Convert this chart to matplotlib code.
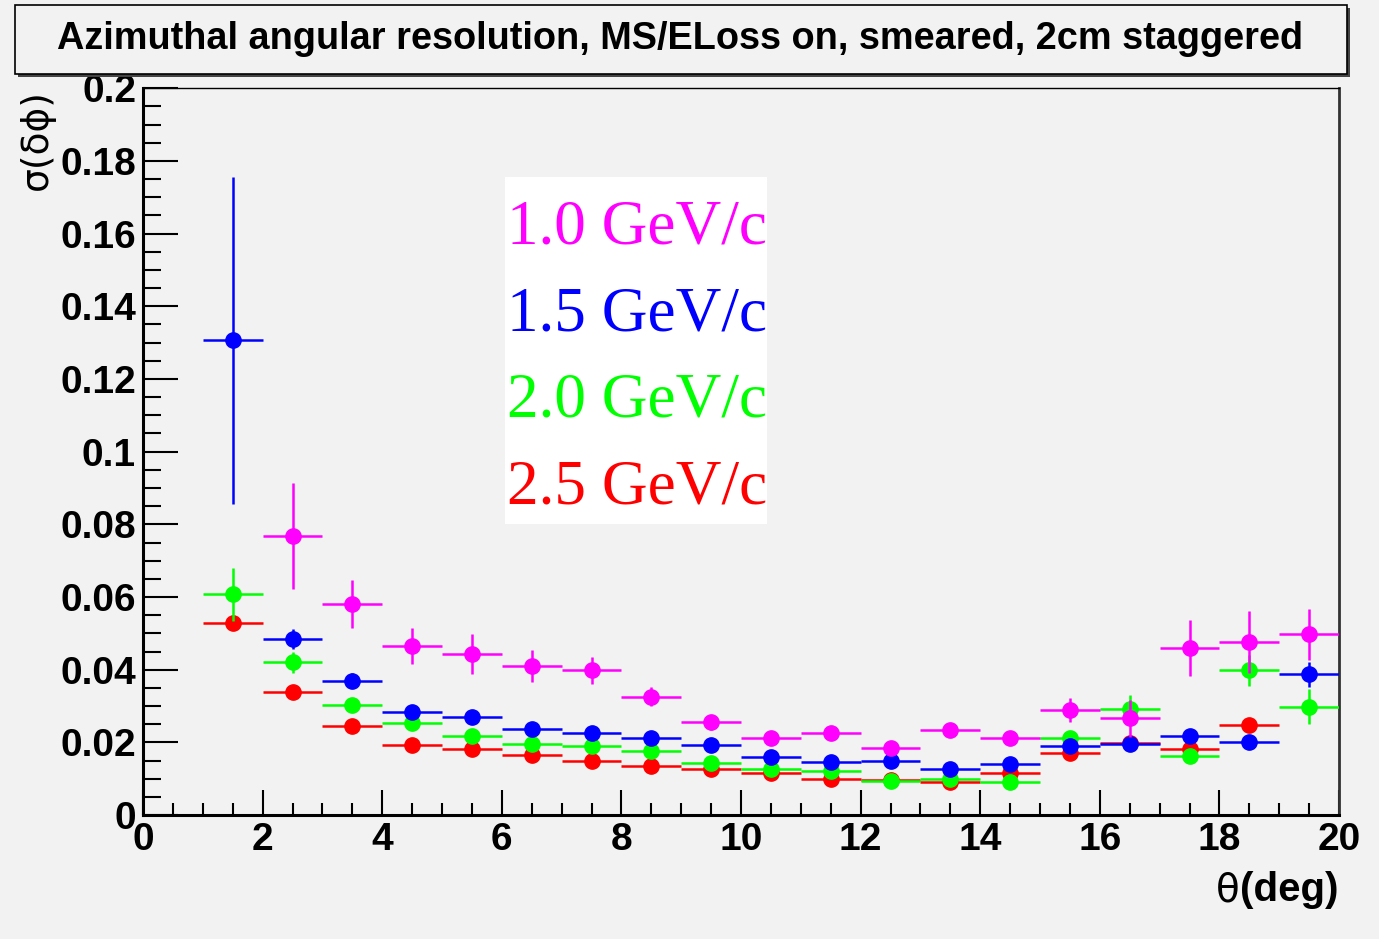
import numpy as np
import matplotlib.pyplot as plt
from matplotlib.patches import Rectangle
from matplotlib.ticker import MultipleLocator, FixedLocator, FixedFormatter

# bin centres (deg) and half bin width
theta = [1.5, 2.5, 3.5, 4.5, 5.5, 6.5, 7.5, 8.5, 9.5, 10.5,
         11.5, 12.5, 13.5, 14.5, 15.5, 16.5, 17.5, 18.5, 19.5]
theta_err = 0.5

# sigma(delta phi) for each momentum
sig_10 = [np.nan, 0.0768, 0.0580, 0.0465, 0.0443, 0.0410, 0.0399, 0.0326, 0.0255, 0.0212,
          0.0227, 0.0184, 0.0234, 0.0212, 0.0289, 0.0266, 0.0459, 0.0477, 0.0497]
err_10 = [np.nan, 0.0145, 0.0066, 0.0050, 0.0055, 0.0045, 0.0037, 0.0027, 0.0020, 0.0018,
          0.0015, 0.0015, 0.0016, 0.0015, 0.0033, 0.0050, 0.0077, 0.0085, 0.0069]

sig_15 = [0.1307, 0.0485, 0.0370, 0.0283, 0.0271, 0.0238, 0.0226, 0.0211, 0.0194, 0.0161,
          0.0145, 0.0149, 0.0128, 0.0140, 0.0190, 0.0195, 0.0217, 0.0200, 0.0387]
err_15 = [0.0450, 0.0028, 0.0020, 0.0016, 0.0014, 0.0013, 0.0012, 0.0011, 0.0010, 0.0010,
          0.0010, 0.0010, 0.0010, 0.0010, 0.0012, 0.0012, 0.0014, 0.0012, 0.0035]

sig_20 = [0.0607, 0.0420, 0.0303, 0.0254, 0.0217, 0.0195, 0.0190, 0.0177, 0.0144, 0.0127,
          0.0122, 0.0095, 0.0099, 0.0091, 0.0211, 0.0291, 0.0162, 0.0398, 0.0298]
err_20 = [0.0072, 0.0030, 0.0015, 0.0012, 0.0011, 0.0010, 0.0010, 0.0010, 0.0009, 0.0008,
          0.0008, 0.0008, 0.0008, 0.0008, 0.0012, 0.0040, 0.0012, 0.0042, 0.0048]

sig_25 = [0.0529, 0.0338, 0.0244, 0.0193, 0.0182, 0.0166, 0.0150, 0.0134, 0.0127, 0.0116,
          0.0099, 0.0097, 0.0092, 0.0115, 0.0171, 0.0199, 0.0183, 0.0249, np.nan]
err_25 = [0.0012, 0.0012, 0.0010, 0.0009, 0.0009, 0.0008, 0.0008, 0.0008, 0.0008, 0.0007,
          0.0007, 0.0007, 0.0007, 0.0007, 0.0008, 0.0010, 0.0010, 0.0012, np.nan]

labels = ['1.0 GeV/c', '1.5 GeV/c', '2.0 GeV/c', '2.5 GeV/c']
colors = ['#ff00ff', '#0000ff', '#00ff00', '#ff0000']

ytick_vals = [0, 0.02, 0.04, 0.06, 0.08, 0.1, 0.12, 0.14, 0.16, 0.18, 0.2]
ytick_txt = ['0', '0.02', '0.04', '0.06', '0.08', '0.1', '0.12', '0.14', '0.16', '0.18', '0.2']

bg = '#f2f2f2'
fig = plt.figure(figsize=(13.79, 9.39), dpi=100, facecolor=bg)
ax = fig.add_axes([0.1037, 0.132, 0.8673, 0.774], facecolor=bg)

# draw order: red, green, blue, magenta on top
series = [(sig_25, err_25, colors[3]), (sig_20, err_20, colors[2]),
          (sig_15, err_15, colors[1]), (sig_10, err_10, colors[0])]
for k, (y, ye, c) in enumerate(series):
    ax.errorbar(theta, y, xerr=theta_err, yerr=ye, fmt='o', color=c,
                markersize=11, elinewidth=1.8, capsize=0, zorder=3 + k)

ax.set_xlim(0, 20)
ax.set_ylim(0, 0.2)

ax.xaxis.set_major_locator(MultipleLocator(2))
ax.xaxis.set_minor_locator(MultipleLocator(0.5))
ax.yaxis.set_major_locator(FixedLocator(ytick_vals))
ax.yaxis.set_major_formatter(FixedFormatter(ytick_txt))
ax.yaxis.set_minor_locator(MultipleLocator(0.005))

ax.tick_params(axis='x', which='major', direction='in', length=18, width=1.5,
               labelsize=28, pad=5, top=False)
ax.tick_params(axis='x', which='minor', direction='in', length=9, width=1.5, top=False)
ax.tick_params(axis='y', which='major', direction='in', length=25, width=1.5,
               labelsize=28, pad=5, right=False)
ax.tick_params(axis='y', which='minor', direction='in', length=13, width=1.5, right=False)
for lab in ax.get_xticklabels() + ax.get_yticklabels():
    lab.set_fontweight('bold')
    lab.set_family('Liberation Sans')

ax.spines['left'].set_linewidth(2.2)
ax.spines['bottom'].set_linewidth(2.2)
ax.spines['top'].set_linewidth(1.0)
ax.spines['right'].set_linewidth(2.0)
ax.spines['right'].set_color('#333333')

# legend as coloured text in a white box
ax.add_patch(Rectangle((6.06, 0.080), 4.38, 0.0955, transform=ax.transData,
                       facecolor='white', edgecolor='none', zorder=2))
for i, (t, c) in enumerate(zip(labels, colors)):
    ax.text(6.08, 0.1615 - i * 0.0239, t, color=c, fontsize=45.5,
            family='Liberation Serif', va='center', ha='left', zorder=10)

# title box with shadow
fig.patches.append(Rectangle((0.0132, 0.9180), 0.9658, 0.0735, transform=fig.transFigure,
                             facecolor='#444444', edgecolor='none', zorder=0))
fig.patches.append(Rectangle((0.0109, 0.9212), 0.9658, 0.0735, transform=fig.transFigure,
                             facecolor=bg, edgecolor='black', linewidth=1.2, zorder=1))
fig.text(0.493, 0.9585, 'Azimuthal angular resolution, MS/ELoss on, smeared, 2cm staggered',
         ha='center', va='center', fontsize=27.3, fontweight='bold', family='Liberation Sans')

# axis titles
fig.text(0.027, 0.905, 'σ(δϕ)', rotation=90, ha='center', va='top', fontsize=27,
         family='DejaVu Sans')
deg = fig.text(0.9705, 0.052, '(deg)', ha='right', va='center', fontsize=29,
               fontweight='bold', family='Liberation Sans')
ax.annotate('θ', xy=(0, 0.5), xycoords=deg, ha='right', va='center', fontsize=28,
            family='DejaVu Sans', annotation_clip=False)

fig.savefig('out.png', dpi=100, facecolor=bg)
